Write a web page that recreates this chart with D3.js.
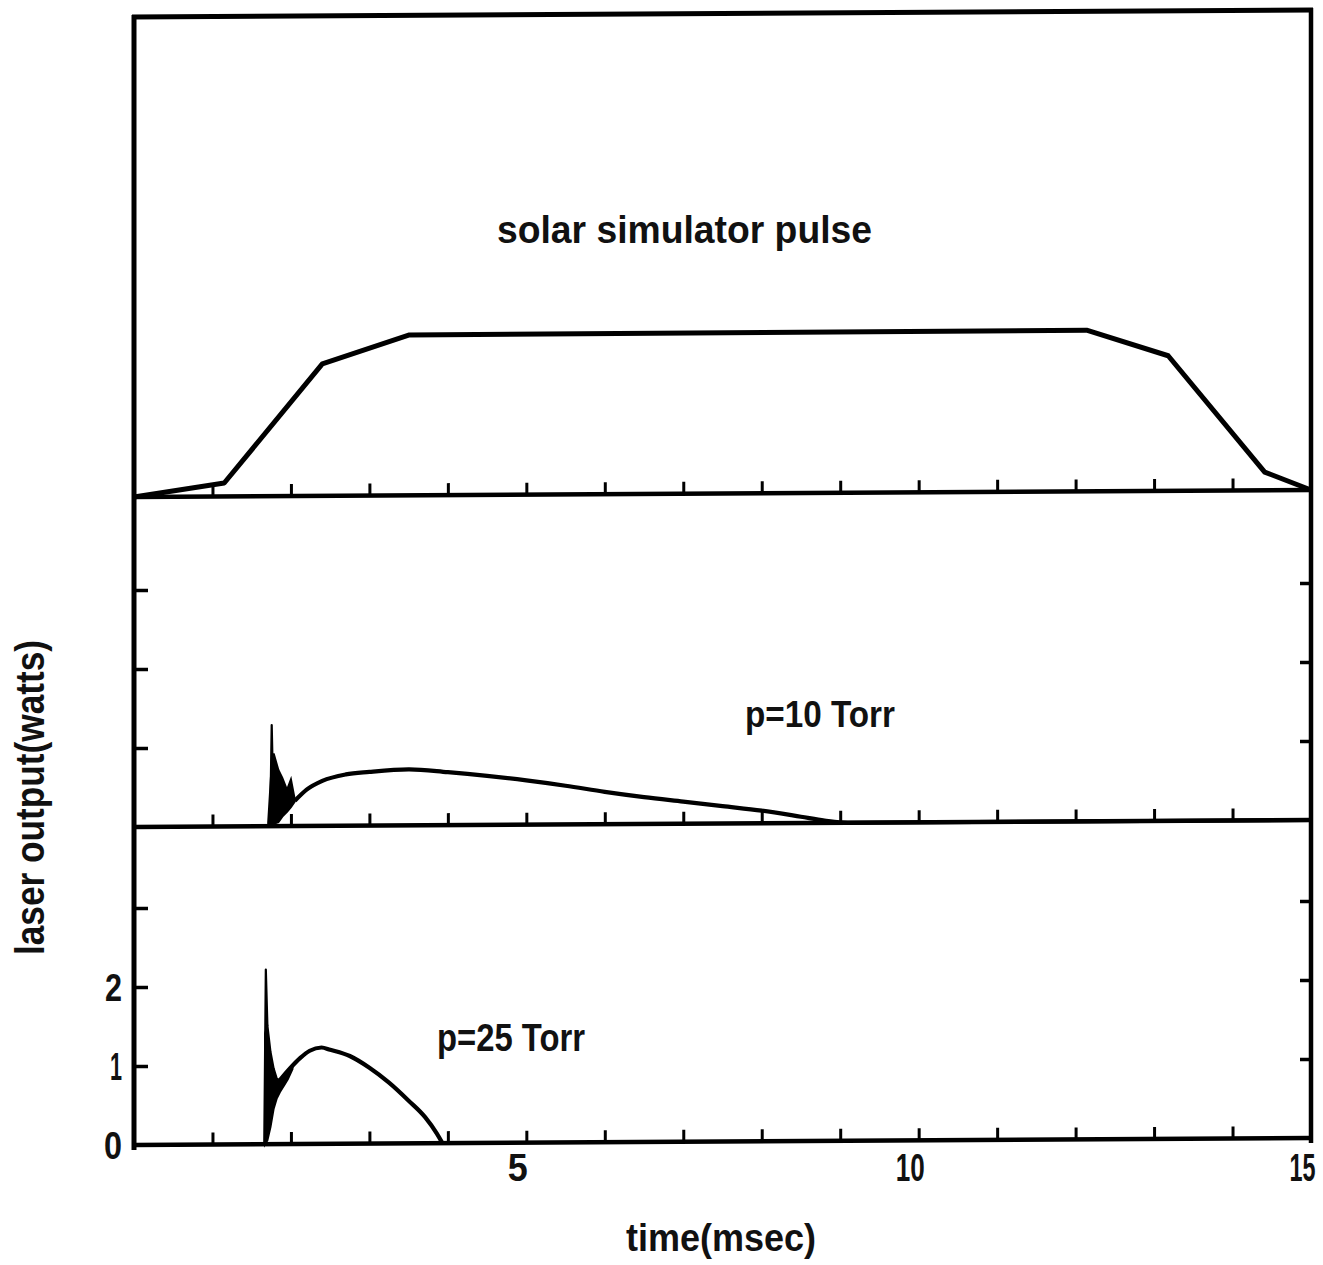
<!DOCTYPE html>
<html><head><meta charset="utf-8">
<script src="https://cdn.jsdelivr.net/npm/d3@7"></script>
<style>
html,body{margin:0;padding:0;background:#fff;}
svg{display:block;}
text{font-family:"Liberation Sans","Arial",sans-serif;font-weight:bold;fill:#111;}
</style></head><body>
<svg id="chart" width="1323" height="1265"></svg>
<script>
// ---------- data ----------
const timeTicks  = [1,2,3,4,5,6,7,8,9,10,11,12,13,14];
const timeLabels = [5,10,15];
const wattTicks  = [1,2,3];
const wattLabels = [0,1,2];

// solar simulator pulse (relative intensity)
const pulseTime  = [0, 1.15, 2.40, 3.51, 12.14, 13.18, 14.41, 15];
const pulseLevel = [0, 0.17, 1.67, 2.03, 2.04, 1.71, 0.23, 0];

// p = 10 Torr
const p10SpikeTime  = [1.735, 1.755, 1.775];
const p10SpikeWatts = [0, 1.28, 0.35];
const p10NoiseTime  = [1.71, 1.75, 1.78, 1.84, 1.89, 1.95, 2.00, 2.05];
const p10NoiseUpper = [0.05, 0.70, 0.92, 0.71, 0.61, 0.46, 0.59, 0.33];
const p10NoiseLower = [0, 0, 0.03, 0.05, 0.12, 0.18, 0.24, 0.31];
const p10Time  = [2.05, 2.2, 2.4, 2.7, 3.0, 3.5, 4.0, 4.5, 5.0, 5.5, 6.0, 6.5, 7.0, 7.5, 8.0, 8.5, 8.8, 9.1, 15];
const p10Watts = [0.32, 0.46, 0.57, 0.65, 0.68, 0.71, 0.67, 0.62, 0.56, 0.49, 0.41, 0.34, 0.28, 0.22, 0.16, 0.08, 0.03, 0, 0];

// p = 25 Torr
const p25SpikeTime  = [1.66, 1.68, 1.70];
const p25SpikeWatts = [0, 2.21, 1.5];
const p25NoiseTime  = [1.67, 1.70, 1.74, 1.78, 1.82, 1.86, 1.91, 1.96, 2.02];
const p25NoiseUpper = [1.40, 1.51, 1.17, 0.96, 0.83, 0.81, 0.84, 0.92, 0.98];
const p25NoiseLower = [0, 0.05, 0.22, 0.45, 0.58, 0.66, 0.74, 0.82, 0.95];
const p25Time  = [1.86, 1.99, 2.12, 2.24, 2.39, 2.50, 2.75, 3.0, 3.25, 3.5, 3.71, 3.86, 3.93];
const p25Watts = [0.81, 0.96, 1.09, 1.18, 1.22, 1.19, 1.11, 0.96, 0.77, 0.54, 0.33, 0.12, 0];

// ---------- layout ----------
const X0 = 134, X1 = 1311;
const TOP = 17, B1 = 497, B2 = 827, B3 = 1145;
const K = 79; // px per unit
const svg = d3.select("#chart");

const x = d3.scaleLinear().domain([0, 15]).range([X0, X1]);
const yTop = d3.scaleLinear().domain([0, (B1 - TOP) / K]).range([B1, TOP]);
const yMid = d3.scaleLinear().domain([0, (B2 - B1) / K]).range([B2, B1]);
const yBot = d3.scaleLinear().domain([0, (B3 - B2) / K]).range([B3, B2]);

const ang = Math.atan(7 / (X1 - X0)) * 180 / Math.PI;
const g = svg.append("g")
  .attr("transform", `translate(${X0},0) skewY(${-ang}) translate(${-X0},0)`);

// frame
g.append("line").attr("x1", X0).attr("x2", X0).attr("y1", TOP - 2).attr("y2", B3 + 5)
  .attr("stroke", "#000").attr("stroke-width", 5);
g.append("line").attr("x1", X1).attr("x2", X1).attr("y1", TOP - 2).attr("y2", B3 + 5)
  .attr("stroke", "#000").attr("stroke-width", 4.5);
g.append("line").attr("x1", X0 - 2).attr("x2", X1 + 2).attr("y1", TOP).attr("y2", TOP)
  .attr("stroke", "#000").attr("stroke-width", 5);
[B1, B2, B3].forEach(b => {
  g.append("line").attr("x1", X0).attr("x2", X1).attr("y1", b).attr("y2", b)
    .attr("stroke", "#000").attr("stroke-width", 4.5);
});

// time ticks on each baseline (pointing up)
[B1, B2, B3].forEach(b => {
  const ax = g.append("g").attr("transform", `translate(0,${b})`)
    .call(d3.axisTop(x).tickValues(timeTicks).tickSize(12).tickFormat(""));
  ax.select(".domain").remove();
  ax.selectAll(".tick line").attr("stroke", "#000").attr("stroke-width", 3);
});

// watt ticks: left (pointing right) and right (pointing left)
[yMid, yBot].forEach(ys => {
  const l = g.append("g").attr("transform", `translate(${X0},0)`)
    .call(d3.axisRight(ys).tickValues(wattTicks).tickSize(14).tickFormat(""));
  l.select(".domain").remove();
  l.selectAll(".tick line").attr("stroke", "#000").attr("stroke-width", 3.5);
  const r = g.append("g").attr("transform", `translate(${X1},0)`)
    .call(d3.axisLeft(ys).tickValues(wattTicks).tickSize(11).tickFormat(""));
  r.select(".domain").remove();
  r.selectAll(".tick line").attr("stroke", "#000").attr("stroke-width", 3.5);
});

// curves
const zip = (a, b) => a.map((v, i) => [v, b[i]]);
const lineOf = (ys, curve) => d3.line().x(d => x(d[0])).y(d => ys(d[1])).curve(curve || d3.curveLinear);

g.append("path").datum(zip(pulseTime, pulseLevel))
  .attr("d", lineOf(yTop))
  .attr("fill", "none").attr("stroke", "#000").attr("stroke-width", 5).attr("stroke-linejoin", "round");

function laser(ys, sT, sW, nT, nU, nL, cT, cW) {
  const area = d3.area().x(d => x(d[0])).y0(d => ys(d[2])).y1(d => ys(d[1])).curve(d3.curveLinear);
  g.append("path").datum(nT.map((t, i) => [t, nU[i], nL[i]]))
    .attr("d", area).attr("fill", "#000").attr("stroke", "#000").attr("stroke-width", 2);
  g.append("path").datum(zip(sT, sW)).attr("d", lineOf(ys))
    .attr("fill", "#000").attr("stroke", "#000").attr("stroke-width", 2.2).attr("stroke-linejoin", "round");
  g.append("path").datum(zip(cT, cW)).attr("d", lineOf(ys, d3.curveMonotoneX))
    .attr("fill", "none").attr("stroke", "#000").attr("stroke-width", 4.2).attr("stroke-linejoin", "round");
}
laser(yMid, p10SpikeTime, p10SpikeWatts, p10NoiseTime, p10NoiseUpper, p10NoiseLower, p10Time, p10Watts);
laser(yBot, p25SpikeTime, p25SpikeWatts, p25NoiseTime, p25NoiseUpper, p25NoiseLower, p25Time, p25Watts);

// ---------- labels ----------
const labelWidth = {0: 18, 1: 12, 2: 17, 5: 20, 10: 29, 15: 26};
// squeeze a label horizontally to a target width (condensed lettering)
function squeeze(sel, anchorX) {
  sel.each(function(d) {
    const t = d3.select(this);
    const w = this.getComputedTextLength();
    const s = labelWidth[d] / w;
    t.attr("transform", `translate(${anchorX},0) scale(${s},1)`).attr("x", 0);
  });
}

const xl = svg.append("g").attr("transform", `translate(-9,${B3 + 36})`)
  .call(d3.axisBottom(x).tickValues(timeLabels).tickSize(0).tickFormat(d3.format("d")));
xl.select(".domain").remove();
xl.selectAll("text").attr("y", 0).attr("dy", 0)
  .attr("font-family", null).attr("font-size", null).style("font-size", "38px");
squeeze(xl.selectAll("text"), 0);

const yl = svg.append("g").attr("transform", `translate(${X0 - 12},0)`)
  .call(d3.axisLeft(yBot).tickValues(wattLabels).tickSize(0).tickFormat(d3.format("d")));
yl.select(".domain").remove();
yl.selectAll("text").attr("dy", "0.36em")
  .attr("font-family", null).attr("font-size", null).style("font-size", "38px");
squeeze(yl.selectAll("text"), 0);

svg.append("text").attr("x", 497).attr("y", 243).attr("font-size", 38)
  .attr("textLength", 375).attr("lengthAdjust", "spacingAndGlyphs").text("solar simulator pulse");
svg.append("text").attr("x", 745).attr("y", 727).attr("font-size", 37)
  .attr("textLength", 150).attr("lengthAdjust", "spacingAndGlyphs").text("p=10 Torr");
svg.append("text").attr("x", 437).attr("y", 1051).attr("font-size", 39)
  .attr("textLength", 148).attr("lengthAdjust", "spacingAndGlyphs").text("p=25 Torr");
svg.append("text").attr("transform", "translate(44,955) rotate(-90)").attr("font-size", 40)
  .attr("textLength", 315).attr("lengthAdjust", "spacingAndGlyphs").text("laser output(watts)");
svg.append("text").attr("x", 626).attr("y", 1251).attr("font-size", 38)
  .attr("textLength", 190).attr("lengthAdjust", "spacingAndGlyphs").text("time(msec)");
</script>
</body></html>
